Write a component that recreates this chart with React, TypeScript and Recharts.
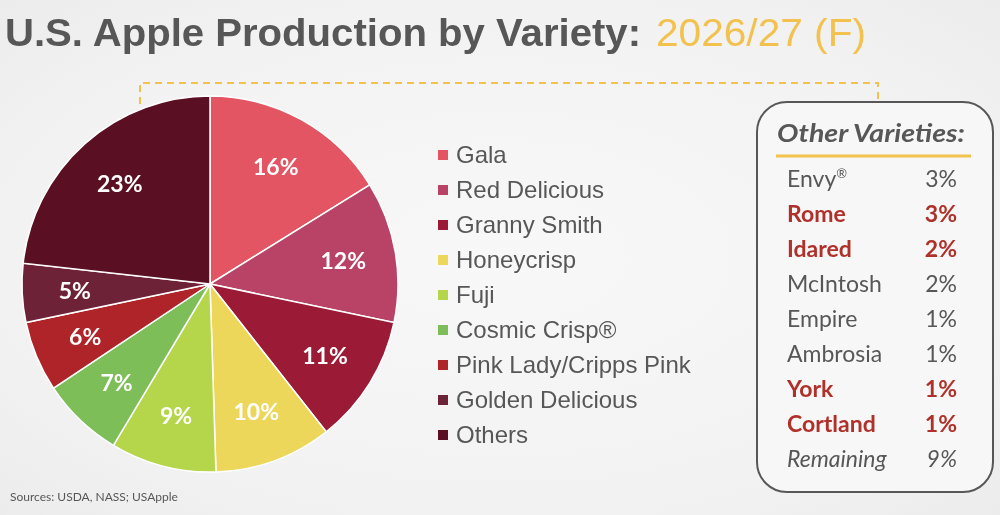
import React from "react";
import { PieChart, Pie, Cell, Legend } from "recharts";

const varieties = [
  "Gala",
  "Red Delicious",
  "Granny Smith",
  "Honeycrisp",
  "Fuji",
  "Cosmic Crisp®",
  "Pink Lady/Cripps Pink",
  "Golden Delicious",
  "Others",
];
const shares = [16, 12, 11, 10, 9, 7, 6, 5, 23];

const otherNames = ["Envy", "Rome", "Idared", "McIntosh", "Empire", "Ambrosia", "York", "Cortland", "Remaining"];
const otherShares = [3, 3, 2, 2, 1, 1, 1, 1, 9];
const otherHighlighted = ["Rome", "Idared", "York", "Cortland"];

const COLORS = ["#E35562", "#B94366", "#9B1B37", "#EDD75A", "#B5D64A", "#7DBE58", "#AE2428", "#6E2238", "#5A0F22"];

const GRAY = "#575757";
const GOLD = "#F2C14E";
const RED = "#B0302A";

const data = varieties.map((name, i) => ({ name, value: shares[i] }));

const RADIAN = Math.PI / 180;

function SliceLabel(props: any) {
  const { cx, cy, midAngle, outerRadius, value } = props;
  const r = outerRadius * 0.72;
  const x = cx + r * Math.cos(-midAngle * RADIAN);
  const y = cy + r * Math.sin(-midAngle * RADIAN);
  return (
    <text
      x={x}
      y={y}
      fill="#fff"
      textAnchor="middle"
      dominantBaseline="central"
      style={{ fontFamily: "Lato", fontWeight: 700, fontSize: 23 }}
    >
      {value}%
    </text>
  );
}

// legend drawn in data order (recharts 3 sorts its payload by name)
function LegendList() {
  return (
    <div>
      {varieties.map((name, i) => (
        <div key={name} style={{ display: "flex", alignItems: "center", height: 35 }}>
          <span style={{ width: 10, height: 10, background: COLORS[i], marginRight: 8 }} />
          <span style={{ fontFamily: "'Liberation Sans', Arial", fontSize: 24, color: GRAY }}>{name}</span>
        </div>
      ))}
    </div>
  );
}

export default function App() {
  return (
    <div
      style={{
        position: "fixed",
        left: 0,
        top: 0,
        width: 1000,
        height: 515,
        background: "radial-gradient(ellipse at 50% 50%, #f8f8f8 0%, #f2f2f2 70%, #ececec 100%)",
        overflow: "hidden",
      }}
    >
      {/* title, dashed callout and side box */}
      <svg width={1000} height={515} style={{ position: "absolute", left: 0, top: 0 }}>
        <text
          x={5}
          y={46}
          textLength={636}
          lengthAdjust="spacingAndGlyphs"
          style={{ fontFamily: "'Liberation Sans', Arial", fontWeight: 700, fontSize: 38 }}
          fill={GRAY}
        >
          U.S. Apple Production by Variety:
        </text>
        <text
          x={656}
          y={46}
          textLength={210}
          lengthAdjust="spacingAndGlyphs"
          style={{ fontFamily: "'Liberation Sans', Arial", fontSize: 38 }}
          fill={GOLD}
        >
          2026/27 (F)
        </text>

        <path
          d="M140 152 L140 83 L878 83 L878 102"
          fill="none"
          stroke={GOLD}
          strokeWidth={2}
          strokeDasharray="7 5"
        />

        <rect x={757} y={102} width={236} height={390} rx={30} ry={30} fill="#f7f7f7" stroke={GRAY} strokeWidth={2} />
        <text
          x={777}
          y={142}
          textLength={188}
          lengthAdjust="spacingAndGlyphs"
          style={{ fontFamily: "Lato", fontWeight: 700, fontStyle: "italic", fontSize: 25 }}
          fill={GRAY}
        >
          Other Varieties:
        </text>
        <line x1={776} y1={156} x2={971} y2={156} stroke={GOLD} strokeWidth={3} />
        {otherNames.map((n, i) => {
          const hot = otherHighlighted.includes(n);
          const last = i === otherNames.length - 1;
          const st: React.CSSProperties = {
            fontFamily: "Lato",
            fontSize: 23,
            fontWeight: hot ? 700 : 400,
            fontStyle: last ? "italic" : "normal",
          };
          const y = 187 + i * 35;
          return (
            <g key={n}>
              <text x={787} y={y} style={st} fill={hot ? RED : GRAY}>
                {n}
                {n === "Envy" && (
                  <tspan fontSize={13} dy={-9}>
                    ®
                  </tspan>
                )}
              </text>
              <text x={957} y={y} textAnchor="end" style={st} fill={hot ? RED : GRAY}>
                {otherShares[i]}%
              </text>
            </g>
          );
        })}

        <text x={10} y={501} style={{ fontFamily: "Lato", fontSize: 12 }} fill={GRAY}>
          Sources: USDA, NASS; USApple
        </text>
      </svg>

      <div style={{ position: "absolute", left: 0, top: 0 }}>
        <PieChart width={1000} height={515} margin={{ top: 0, right: 0, bottom: 0, left: 0 }}>
          <Pie
            data={data}
            dataKey="value"
            nameKey="name"
            cx={210}
            cy={284}
            outerRadius={188}
            startAngle={90}
            endAngle={-270}
            stroke="#ffffff"
            strokeWidth={1.5}
            labelLine={false}
            label={SliceLabel}
            isAnimationActive={false}
          >
            {data.map((d, i) => (
              <Cell key={d.name} fill={COLORS[i]} />
            ))}
          </Pie>
          <Legend
            layout="vertical"
            content={LegendList}
            wrapperStyle={{ position: "absolute", left: 438, top: 137, width: 320 }}
          />
        </PieChart>
      </div>
    </div>
  );
}
